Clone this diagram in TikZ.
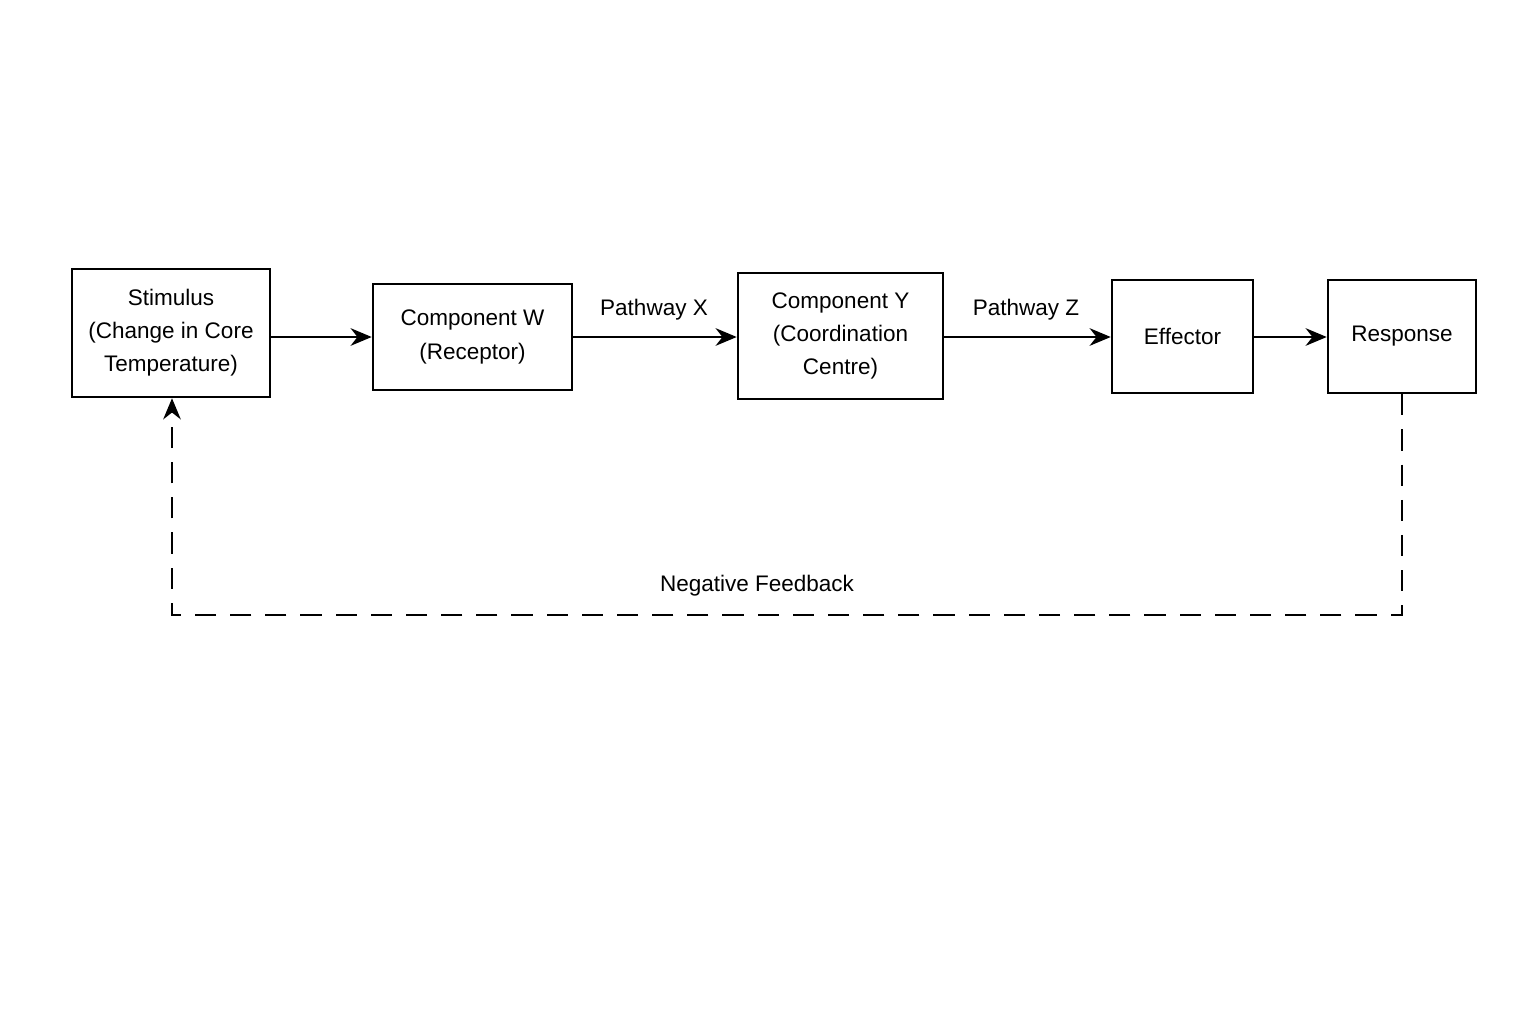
\documentclass[tikz,border=0pt]{standalone}
\usepackage{fontspec}
\setmainfont{Liberation Sans}
\usetikzlibrary{arrows.meta}
\begin{document}
\begin{tikzpicture}[x=0.01cm,y=-0.01cm,
  box/.style={draw,line width=0.7pt,align=center,inner sep=0pt,font=\fontsize{6.4pt}{9.4pt}\selectfont},
  arr/.style={-{Stealth[length=6pt,width=5pt]},line width=0.7pt},
  lab/.style={font=\fontsize{6.4pt}{9.4pt}\selectfont}]
\useasboundingbox (0,0) rectangle (1536,1024);
\node[box,minimum width=1.98cm,minimum height=1.28cm] (s) at (171,333) {\raisebox{-1pt}{}Stimulus\\(Change in Core\\Temperature)};
\node[box,minimum width=1.99cm,minimum height=1.06cm] (w) at (472.5,337) {Component W\\(Receptor)};
\node[box,minimum width=2.05cm,minimum height=1.26cm] (y) at (840.5,336) {Component Y\\(Coordination\\Centre)};
\node[box,minimum width=1.41cm,minimum height=1.13cm] (e) at (1182.5,336.5) {Effector};
\node[box,minimum width=1.48cm,minimum height=1.13cm] (r) at (1402,336.5) {Response};
\draw[arr] (s.east|-0,337) -- (w.west|-0,337);
\draw[arr] (w.east|-0,337) -- (y.west|-0,337);
\draw[arr] (y.east|-0,337) -- (e.west|-0,337);
\draw[arr] (e.east|-0,337) -- (r.west|-0,337);
\node[lab] (px) at (654,310) {Pathway X};
\node[lab] (pz) at (1026,310) {Pathway Z};
\coordinate (c1) at (1402,615);
\coordinate (c2) at (172,615);
\draw[arr,dash pattern=on 6pt off 4pt] (r.south) -- (c1) -- (c2) -- (s.south-|c2);
\node[lab] (nf) at (757,586) {Negative Feedback};
\end{tikzpicture}
\end{document}
